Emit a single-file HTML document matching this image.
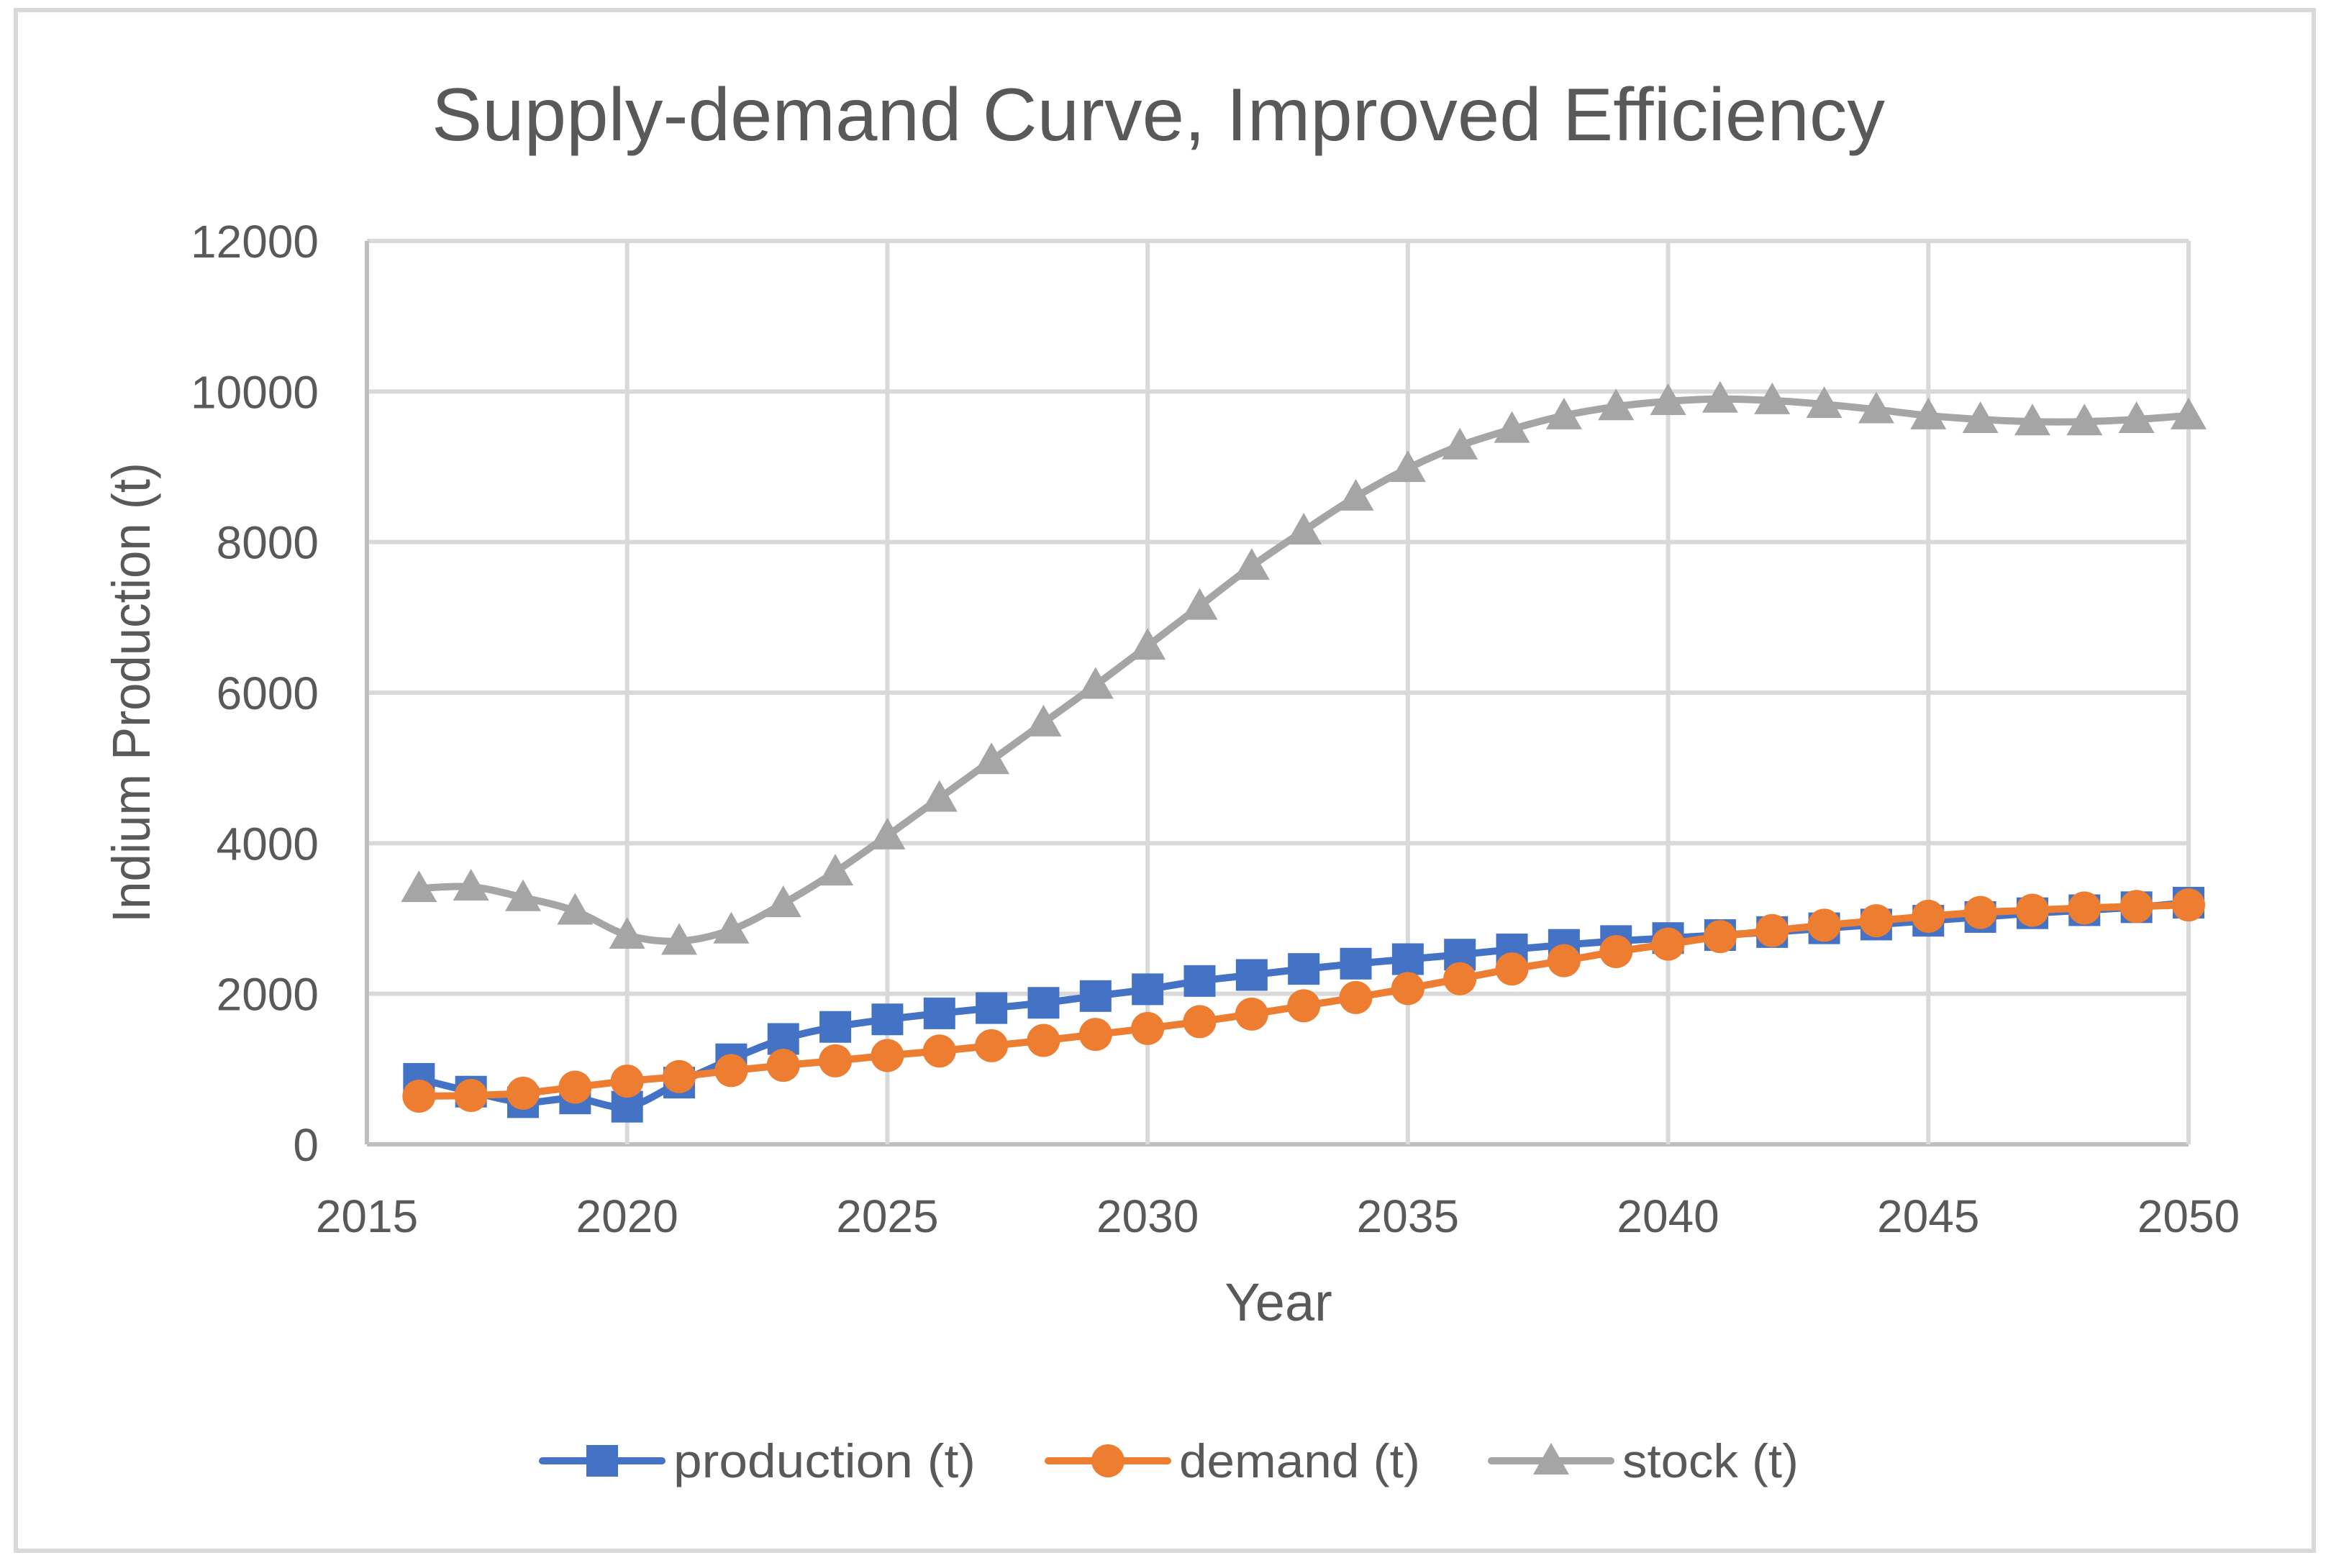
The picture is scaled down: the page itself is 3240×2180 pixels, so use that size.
<!DOCTYPE html>
<html><head><meta charset="utf-8"><style>
html,body{margin:0;padding:0;background:#fff}
svg{display:block}
text{font-family:"Liberation Sans","DejaVu Sans",sans-serif;fill:#595959}
</style></head><body>
<svg id="chart" width="3240" height="2180" viewBox="0 0 3240 2180">
<rect x="22" y="14" width="3194" height="2142" fill="#fff" stroke="#d9d9d9" stroke-width="6"/>
<text x="1610" y="195" font-size="104" text-anchor="middle" textLength="2020" lengthAdjust="spacingAndGlyphs">Supply-demand Curve, Improved Efficiency</text>
<g id="grid"></g>
<g id="yticks"></g>
<g id="xticks"></g>
<text transform="translate(208,963) rotate(-90)" font-size="74" text-anchor="middle" textLength="640" lengthAdjust="spacingAndGlyphs">Indium Production (t)</text>
<text x="1777" y="1836" font-size="74" text-anchor="middle">Year</text>
<g id="series"></g>
<g id="legend"></g>
</svg>
<script>
const years=[2016,2017,2018,2019,2020,2021,2022,2023,2024,2025,2026,2027,2028,2029,2030,2031,2032,2033,2034,2035,2036,2037,2038,2039,2040,2041,2042,2043,2044,2045,2046,2047,2048,2049,2050];
const production=[870,700,560,610,500,820,1130,1400,1560,1660,1740,1810,1880,1970,2060,2170,2250,2330,2400,2460,2520,2590,2650,2700,2740,2780,2820,2870,2920,2970,3020,3070,3110,3150,3210];
const demand=[640,650,680,760,840,900,980,1050,1110,1180,1240,1310,1380,1460,1540,1630,1730,1840,1950,2070,2200,2330,2440,2560,2660,2760,2840,2910,2970,3030,3080,3110,3140,3160,3180];
const stock=[3400,3420,3280,3100,2780,2700,2850,3200,3620,4100,4600,5100,5600,6100,6620,7150,7680,8150,8600,8980,9280,9500,9680,9800,9870,9900,9880,9830,9760,9680,9630,9600,9600,9630,9680];
const yTicks=[0,2000,4000,6000,8000,10000,12000];
const xTicks=[2015,2020,2025,2030,2035,2040,2045,2050];
const seriesNames=["production (t)","demand (t)","stock (t)"];

const L=510,R=3042,T=335,B=1591;
const X=v=>L+(v-2015)/35*(R-L);
const Y=v=>B-v/12000*(B-T);
const NS="http://www.w3.org/2000/svg";
function mk(tag,attrs,parent){const e=document.createElementNS(NS,tag);for(const k in attrs)e.setAttribute(k,attrs[k]);parent.appendChild(e);return e;}
const grid=document.getElementById('grid'),yt=document.getElementById('yticks'),xt=document.getElementById('xticks');
yTicks.forEach(v=>{
  const l=mk('line',{x1:L,x2:R,y1:Y(v),y2:Y(v),stroke:v===0?'#bfbfbf':'#d9d9d9','stroke-width':6},grid);
  
  
  const t=mk('text',{x:443,y:Y(v)+23,'font-size':64,'text-anchor':'end'},yt);t.textContent=v;
  
  
});
xTicks.forEach(v=>{
  const l=mk('line',{x1:X(v),x2:X(v),y1:T,y2:B,stroke:v===2015?'#bfbfbf':'#d9d9d9','stroke-width':6},grid);
  
  
  const t=mk('text',{x:X(v),y:1713,'font-size':64,'text-anchor':'middle'},xt);t.textContent=v;
  
  
});
function smooth(pts){
  let d=`M${pts[0][0]},${pts[0][1]}`;
  for(let i=0;i<pts.length-1;i++){
    const p0=pts[Math.max(0,i-1)],p1=pts[i],p2=pts[i+1],p3=pts[Math.min(pts.length-1,i+2)];
    const c1=[p1[0]+(p2[0]-p0[0])/6,p1[1]+(p2[1]-p0[1])/6],c2=[p2[0]-(p3[0]-p1[0])/6,p2[1]-(p3[1]-p1[1])/6];
    d+=` C${c1[0]},${c1[1]} ${c2[0]},${c2[1]} ${p2[0]},${p2[1]}`;
  }
  return d;
}
function marker(type,x,y,color,g){
  let e;
  if(type==='sq')e=mk('rect',{x:x-22,y:y-22,width:44,height:44,fill:color},g);
  else if(type==='ci')e=mk('circle',{cx:x,cy:y,r:23,fill:color},g);
  else e=mk('polygon',{points:`${x},${y-25} ${x+25},${y+19} ${x-25},${y+19}`,fill:color},g);
  return e;
}
const sg=document.getElementById('series');
const defs=[[stock,'#a5a5a5','tr','stock'],[production,'#4472c4','sq','production'],[demand,'#ed7d31','ci','demand']];
defs.forEach(([vals,color,mt,nm])=>{
  const g=mk('g',{},sg);
  
  
  const pts=vals.map((v,i)=>[X(years[i]),Y(v)]);
  const p=mk('path',{d:smooth(pts),fill:'none',stroke:color,'stroke-width':10,'stroke-linejoin':'round'},g);
  
  
  pts.forEach(q=>{const m=marker(mt,q[0],q[1],color,g);
    
    });
});
const lg=document.getElementById('legend');
const leg=[[754,'#4472c4','sq',0,420],[1457,'#ed7d31','ci',1,335],[2073,'#a5a5a5','tr',2,245]];
leg.forEach(([x,color,mt,i,w])=>{
  const g=mk('g',{},lg);
  
  
  mk('line',{x1:x,x2:x+166,y1:2031,y2:2031,stroke:color,'stroke-width':10,'stroke-linecap':'round'},g);
  marker(mt,x+83,2031,color,g);
  const t=mk('text',{x:x+182,y:2054,'font-size':66,textLength:w,lengthAdjust:'spacingAndGlyphs'},g);t.textContent=seriesNames[i];
});
</script>
</body></html>
